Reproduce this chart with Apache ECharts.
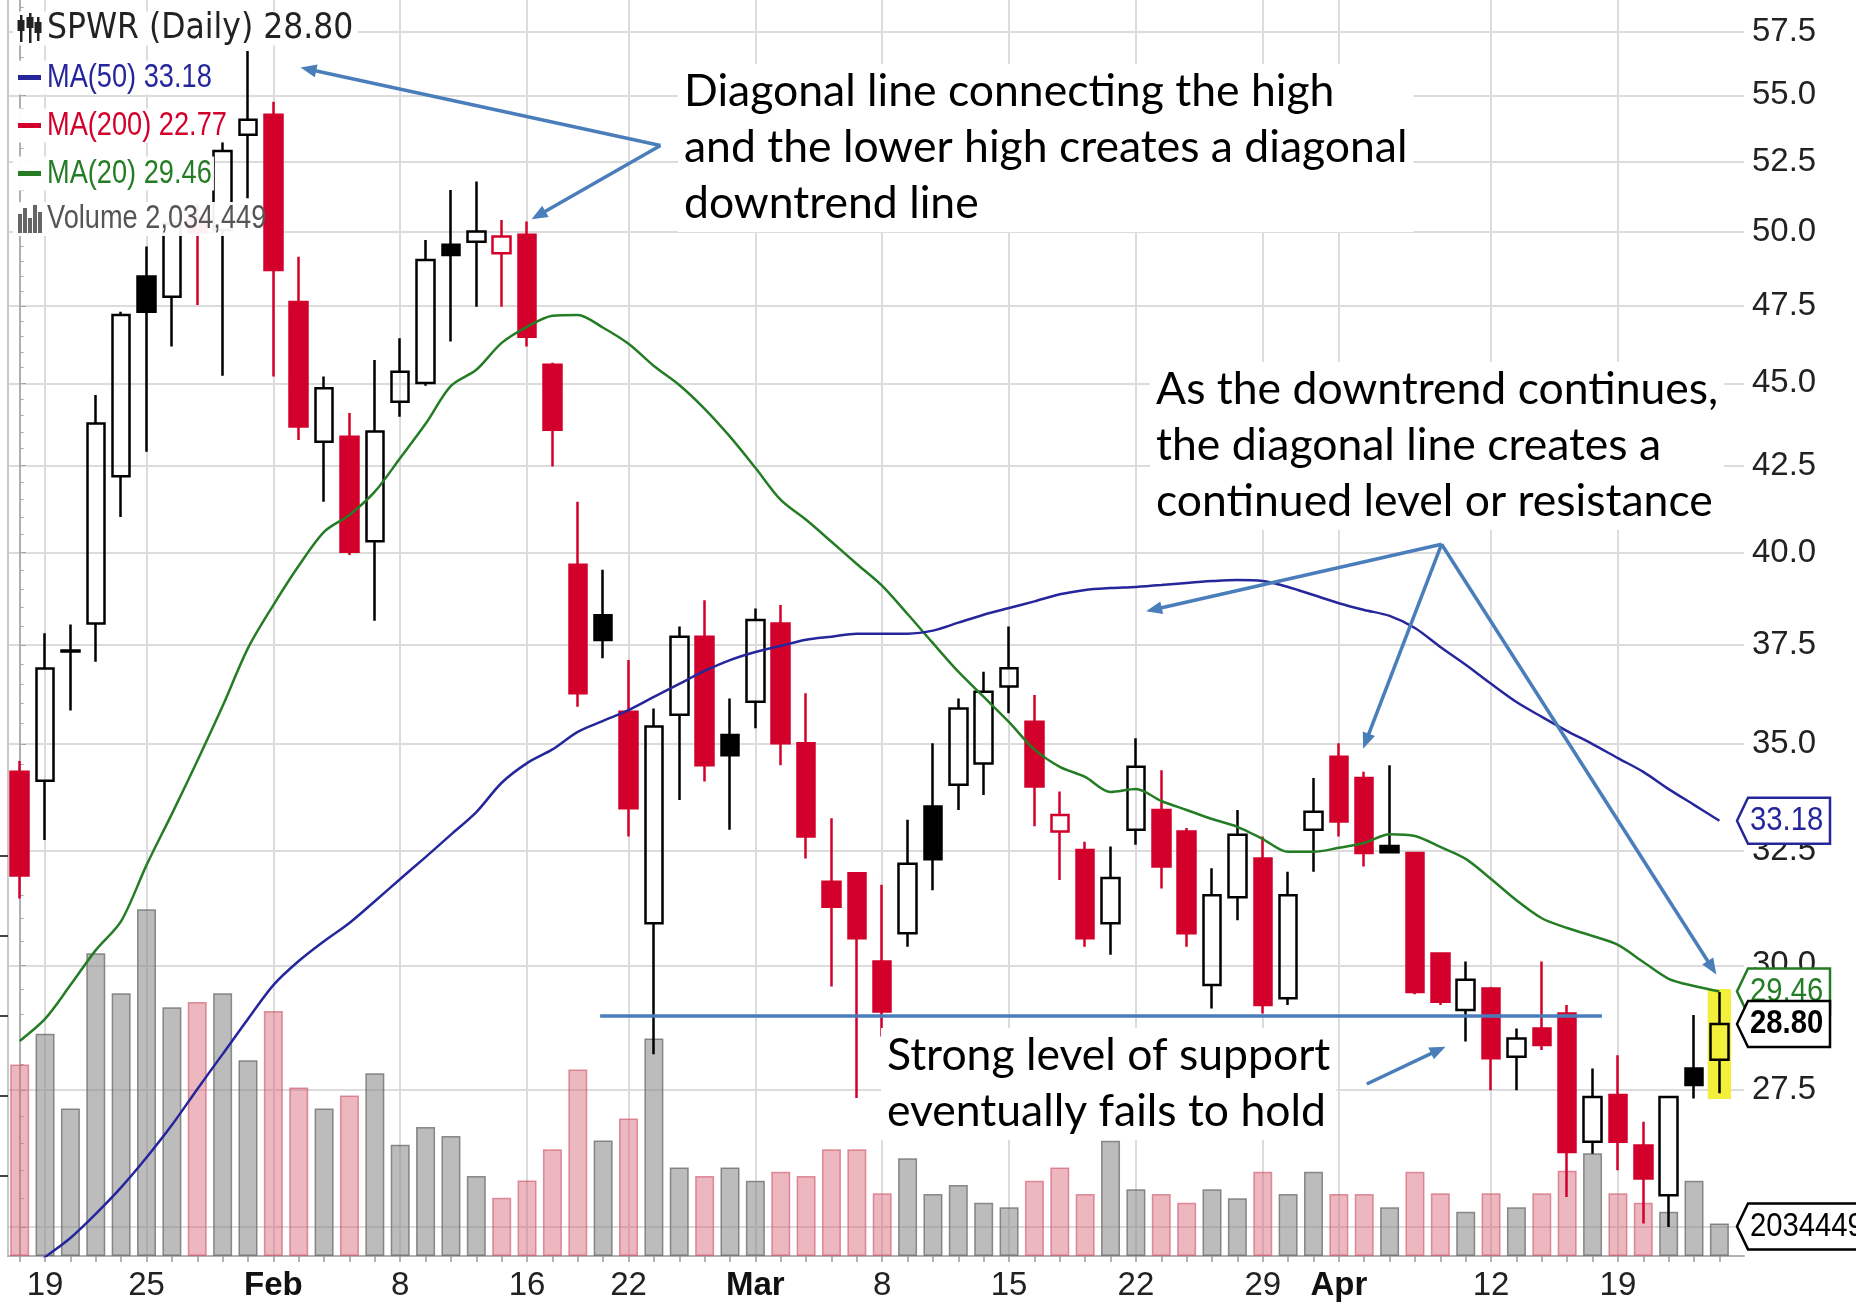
<!DOCTYPE html>
<html>
<head>
<meta charset="utf-8">
<title>SPWR (Daily)</title>
<script src="https://cdn.jsdelivr.net/npm/echarts@6.0.0/dist/echarts.min.js"></script>
<style>
html, body { margin: 0; padding: 0; background: #fff; }
#main { width: 1856px; height: 1310px; }
</style>
</head>
<body>
<div id="main"></div>
<script>
//--------------------------------------------- data ------------------------------------------ START
var dates = ['Jan 15','Jan 19','Jan 20','Jan 21','Jan 22','Jan 25','Jan 26','Jan 27','Jan 28','Jan 29',
  'Feb 1','Feb 2','Feb 3','Feb 4','Feb 5','Feb 8','Feb 9','Feb 10','Feb 11','Feb 12',
  'Feb 16','Feb 17','Feb 18','Feb 19','Feb 22','Feb 23','Feb 24','Feb 25','Feb 26','Mar 1',
  'Mar 2','Mar 3','Mar 4','Mar 5','Mar 8','Mar 9','Mar 10','Mar 11','Mar 12','Mar 15',
  'Mar 16','Mar 17','Mar 18','Mar 19','Mar 22','Mar 23','Mar 24','Mar 25','Mar 26','Mar 29',
  'Mar 30','Mar 31','Apr 1','Apr 5','Apr 6','Apr 7','Apr 8','Apr 9','Apr 12','Apr 13',
  'Apr 14','Apr 15','Apr 16','Apr 19','Apr 20','Apr 21','Apr 22','Apr 23'];

var openPrice = [34.33, 34.12, 37.33, 38.07, 42.18, 48.48, 47.80, 50.50, 50.08, 53.51,
  54.26, 47.63, 43.21, 43.36, 40.31, 44.43, 45.01, 49.56, 49.67, 49.27,
  49.91, 45.59, 39.66, 38.29, 35.80, 30.89, 35.72, 37.72, 35.22, 36.05,
  38.07, 35.02, 31.80, 31.99, 30.08, 30.68, 33.51, 34.02, 34.53, 36.43,
  35.55, 32.93, 32.51, 30.89, 32.97, 33.43, 32.93, 29.59, 31.46, 32.32,
  29.32, 32.97, 34.69, 34.18, 32.60, 32.44, 30.25, 29.08, 29.52, 28.15,
  28.71, 29.01, 26.53, 27.41, 26.46, 25.56, 27.92, 28.09];

var highPrice = [34.59, 37.81, 38.04, 44.64, 47.30, 49.50, 50.40, 51.00, 53.30, 56.73,
  54.76, 49.15, 45.22, 44.08, 45.74, 46.44, 49.73, 51.49, 51.80, 50.43,
  50.37, 45.65, 41.44, 39.52, 37.11, 35.88, 37.99, 38.69, 36.13, 38.47,
  38.56, 36.26, 33.24, 32.00, 31.73, 33.20, 35.02, 36.13, 36.81, 37.99,
  36.22, 33.86, 32.70, 32.59, 35.14, 34.37, 33.01, 32.10, 33.43, 32.82,
  32.02, 34.18, 35.02, 34.33, 34.49, 32.47, 30.27, 30.08, 29.55, 28.71,
  30.08, 29.18, 27.92, 28.18, 26.90, 27.37, 28.98, 29.45];

var lowPrice = [31.43, 32.74, 35.83, 37.07, 41.00, 42.91, 46.17, 47.53, 45.24, 51.20,
  45.22, 43.26, 41.44, 39.93, 38.14, 43.97, 44.93, 46.33, 47.47, 47.47,
  46.17, 42.47, 35.92, 37.16, 32.82, 28.20, 33.66, 34.10, 32.97, 35.39,
  34.49, 32.32, 29.56, 27.35, 28.55, 30.39, 31.61, 33.43, 33.78, 35.76,
  33.05, 31.84, 30.39, 30.22, 32.63, 31.65, 30.39, 29.11, 30.96, 29.01,
  29.18, 32.02, 32.82, 32.14, 32.44, 29.40, 29.18, 28.45, 27.50, 27.50,
  28.28, 25.53, 26.31, 26.01, 25.06, 25.00, 27.34, 27.44];

var closePrice = [31.94, 36.89, 37.36, 43.76, 47.20, 47.30, 50.30, 50.00, 52.91, 54.07,
  48.70, 43.67, 44.85, 40.02, 43.52, 45.37, 49.04, 49.21, 50.02, 49.85,
  46.49, 43.57, 36.26, 37.63, 33.47, 35.43, 37.72, 34.49, 34.73, 38.16,
  35.02, 32.82, 31.25, 30.57, 29.05, 32.20, 32.30, 35.88, 36.30, 36.90,
  33.98, 33.31, 30.57, 31.88, 34.45, 32.14, 30.68, 31.50, 32.86, 29.18,
  31.50, 33.39, 33.16, 32.44, 32.46, 29.45, 29.25, 29.70, 28.12, 28.51,
  28.38, 26.34, 27.37, 26.53, 25.86, 27.37, 27.60, 28.80];

var closeBefore = 34.90;   // close of the session before Jan 15

var volume = [11950000, 13870000, 9200000, 18890000, 16400000, 21640000, 15520000, 15850000, 16400000, 12220000,
  15300000, 10520000, 9200000, 10020000, 11400000, 6950000, 8050000, 7490000, 5000000, 3630000,
  4720000, 6660000, 11640000, 7210000, 8590000, 13580000, 5530000, 4990000, 5530000, 4700000,
  5260000, 4990000, 6660000, 6660000, 3910000, 6100000, 3870000, 4430000, 3330000, 3040000,
  4700000, 5530000, 3870000, 7190000, 4160000, 3870000, 3330000, 4160000, 3600000, 5260000,
  3870000, 5260000, 3870000, 3870000, 3040000, 5260000, 3910000, 2760000, 3910000, 3040000,
  3910000, 5320000, 6410000, 3910000, 3330000, 2760000, 4700000, 2034449];

var ma20 = [28.46, 28.90, 29.59, 30.32, 30.94, 32.17, 33.34, 34.59, 35.94, 37.42,
  38.56, 39.63, 40.58, 41.06, 41.73, 42.72, 43.75, 44.92, 45.43, 46.29,
  46.81, 47.17, 47.20, 46.78, 46.26, 45.55, 44.95, 44.21, 43.36, 42.43,
  41.49, 40.92, 40.30, 39.68, 39.08, 38.32, 37.55, 36.81, 36.17, 35.54,
  34.87, 34.45, 34.21, 33.85, 33.92, 33.64, 33.43, 33.22, 33.04, 32.76,
  32.47, 32.47, 32.56, 32.67, 32.87, 32.83, 32.58, 32.31, 31.86, 31.39,
  31.00, 30.79, 30.62, 30.43, 30.07, 29.72, 29.57, 29.46];

var ma50 = [24.16, 24.48, 24.81, 25.23, 25.70, 26.24, 26.84, 27.52, 28.20, 28.90,
  29.59, 30.09, 30.51, 30.90, 31.37, 31.86, 32.35, 32.86, 33.38, 34.07,
  34.54, 34.87, 35.30, 35.57, 35.84, 36.17, 36.50, 36.83, 37.11, 37.32,
  37.48, 37.64, 37.72, 37.80, 37.80, 37.80, 37.88, 38.09, 38.30, 38.48,
  38.66, 38.85, 38.97, 39.02, 39.05, 39.10, 39.16, 39.21, 39.24, 39.21,
  39.05, 38.83, 38.61, 38.43, 38.27, 37.95, 37.45, 36.99, 36.50, 36.04,
  35.67, 35.32, 35.00, 34.66, 34.33, 33.92, 33.55, 33.18];

var ma200Last = 22.77;

var tickDates = ['Jan 19','Jan 25','Feb 1','Feb 8','Feb 16','Feb 22','Mar 1','Mar 8','Mar 15','Mar 22','Mar 29','Apr 1','Apr 12','Apr 19'];
var tickLabels = ['19','25','Feb','8','16','22','Mar','8','15','22','29','Apr','12','19'];
var priceTicks = [25.0, 27.5, 30.0, 32.5, 35.0, 37.5, 40.0, 42.5, 45.0, 47.5, 50.0, 52.5, 55.0, 57.5];
var volumeTicks = [5000000, 10000000, 15000000, 20000000, 25000000];

// annotation lines, [day index, price]
var trendLine = [[9.04, 56.81], [68.05, 28.98]];
var supportLine = [[22.88, 28.96], [62.37, 28.96]];
var arrowLines = [
  [[25.26, 53.11], [11.38, 56.01]],
  [[25.26, 53.11], [20.45, 50.59]],
  [[56.05, 40.23], [44.71, 38.44]],
  [[56.05, 40.23], [53.07, 35.07]],
  [[56.05, 40.23], [66.71, 29.95]],
  [[53.10, 27.62], [55.92, 28.28]]
];
//--------------------------------------------- data ------------------------------------------ END

var priceMin = 24.50, priceMax = 58.78, volMax = 78400000;
var RED = '#d2002b', GREEN = '#247d24', NAVY = '#26269c', NOTE = '#4a7ebb', GRIDC = '#dcdcdc';
var AXIS_FONT = '"Liberation Sans", Arial, sans-serif';
var TITLE_FONT = '"DejaVu Sans Condensed", "DejaVu Sans", sans-serif';
var NOTE_FONT = 'Lato, "Open Sans", sans-serif';
var LN = Math.log;

var tickIdx = tickDates.map(function (d) { return dates.indexOf(d); });
var dayIdx = dates.map(function (d, i) { return i; });
var minorTicks = [];
for (var t = 25; t <= 58.5; t += 0.5) { minorTicks.push(LN(t)); }

function isUp(i) {
  var prev = i == 0 ? closeBefore : closePrice[i - 1];
  return closePrice[i] >= prev;
}

function candleData() {
  var res = [];
  for (var i = 0; i < dates.length; i++) {
    var c = isUp(i) ? '#000' : RED;
    var fill = closePrice[i] > openPrice[i] ? 'rgba(0,0,0,0)' : c;
    res.push({
      value: [i, LN(openPrice[i]), LN(closePrice[i]), LN(lowPrice[i]), LN(highPrice[i])],
      itemStyle: { color: fill, color0: fill, borderColor: c, borderColor0: c }
    });
  }
  return res;
}

function volumeData() {
  var res = [];
  for (var i = 0; i < volume.length; i++) {
    var up = isUp(i);
    res.push({
      value: [i, volume[i]],
      itemStyle: {
        color: up ? 'rgba(140,140,140,0.58)' : 'rgba(214,96,116,0.45)',
        borderColor: up ? 'rgba(105,105,105,0.75)' : 'rgba(205,80,100,0.6)',
        borderWidth: 1.5
      }
    });
  }
  return res;
}

function lnLine(arr) {
  var res = [];
  for (var i = 0; i < arr.length; i++) res.push([i, LN(arr[i])]);
  return res;
}

function markPair(pair) {
  return [{ coord: [pair[0][0], LN(pair[0][1])] }, { coord: [pair[1][0], LN(pair[1][1])] }];
}

var last = dates.length - 1;

var option = {
  animation: false,
  backgroundColor: '#fff',
  grid: { left: 8, right: 112, top: 0, bottom: 54, containLabel: false, outerBoundsMode: 'none' },
  xAxis: [{
    type: 'value', position: 'bottom', min: -0.46, max: 67.97,
    axisLine: { show: true, lineStyle: { color: '#b0b0b0', width: 2 } },
    axisTick: { show: false, customValues: tickIdx },
    axisLabel: {
      customValues: tickIdx, margin: 13, color: '#222',
      fontFamily: AXIS_FONT, fontSize: 33,
      formatter: function (v) {
        var k = tickIdx.indexOf(Math.round(v));
        if (k < 0) return '';
        var s = tickLabels[k];
        return /[A-Za-z]/.test(s) ? '{m|' + s + '}' : s;
      },
      rich: { m: { fontFamily: AXIS_FONT, fontSize: 33, fontWeight: 'bold', color: '#111' } }
    },
    splitLine: { show: true, lineStyle: { color: GRIDC, width: 2 } }
  }, {
    type: 'value', position: 'bottom', min: -0.46, max: 67.97,
    axisLine: { show: false },
    axisTick: { show: true, customValues: dayIdx, length: 6, lineStyle: { color: '#999', width: 1.5 } },
    axisLabel: { show: false },
    splitLine: { show: false }
  }],
  yAxis: [{
    type: 'value', position: 'right', min: LN(priceMin), max: LN(priceMax),
    axisLine: { show: true, lineStyle: { color: '#b0b0b0', width: 2 } },
    axisTick: { show: true, customValues: priceTicks.map(LN), length: 6, lineStyle: { color: '#999' } },
    axisLabel: {
      customValues: priceTicks.map(LN), margin: 8, color: '#222',
      fontFamily: AXIS_FONT, fontSize: 33,
      formatter: function (v) { return Math.exp(v).toFixed(1); }
    },
    splitLine: { show: true, lineStyle: { color: GRIDC, width: 2 } }
  }, {
    type: 'value', position: 'right', min: LN(priceMin), max: LN(priceMax),
    axisLine: { show: false },
    axisTick: { show: true, customValues: minorTicks, length: 4, lineStyle: { color: '#aaa' } },
    axisLabel: { show: false },
    splitLine: { show: false }
  }, {
    type: 'value', position: 'left', min: 0, max: volMax,
    axisLine: { show: true, lineStyle: { color: '#c8c8c8', width: 2 } },
    axisTick: { show: true, customValues: volumeTicks, length: 8, lineStyle: { color: '#444', width: 2 } },
    axisLabel: { show: false },
    splitLine: { show: false }
  }],
  series: [
    {
      name: 'highlight', type: 'line', xAxisIndex: 0, yAxisIndex: 0, data: [], silent: true,
      markArea: {
        silent: true, itemStyle: { color: '#f3f03c' },
        data: [[{ coord: [last - 0.46, LN(highPrice[last] * 1.002)] }, { coord: [last + 0.46, LN(lowPrice[last] * 0.996)] }]]
      }
    },
    {
      name: 'Volume', type: 'bar', xAxisIndex: 0, yAxisIndex: 2, barWidth: 19, z: 1,
      data: volumeData()
    },
    {
      name: 'SPWR', type: 'candlestick', xAxisIndex: 0, yAxisIndex: 0, barWidth: 18, z: 3,
      itemStyle: { borderWidth: 2.5 },
      data: candleData()
    },
    {
      name: 'MA(20)', type: 'line', xAxisIndex: 0, yAxisIndex: 0, z: 4, showSymbol: false, symbol: 'none',
      smooth: 0.3, lineStyle: { color: GREEN, width: 2.5 }, data: lnLine(ma20)
    },
    {
      name: 'MA(50)', type: 'line', xAxisIndex: 0, yAxisIndex: 0, z: 4, showSymbol: false, symbol: 'none',
      smooth: 0.3, lineStyle: { color: NAVY, width: 2.5 }, data: lnLine(ma50)
    },
    {
      name: 'lines', type: 'line', xAxisIndex: 0, yAxisIndex: 0, data: [], silent: true,
      markLine: {
        silent: true, symbol: ['none', 'none'], label: { show: false },
        lineStyle: { color: NOTE, width: 3.5, type: 'solid' },
        data: [markPair(trendLine), markPair(supportLine)]
      }
    },
    {
      name: 'arrows', type: 'line', xAxisIndex: 0, yAxisIndex: 0, data: [], silent: true,
      markLine: {
        silent: true, symbol: ['none', 'triangle'], symbolSize: [13, 16], label: { show: false },
        lineStyle: { color: NOTE, width: 3.5, type: 'solid' },
        data: arrowLines.map(markPair)
      }
    }
  ],
  graphic: []
};

var myChart = echarts.init(document.getElementById('main'));
myChart.setOption(option);

//--------------------------------------------- legend, notes, value boxes ------------------------------------------
function legendRow(y, right, text, color, fontFamily, fontSize, sx) {
  return [{
    type: 'rect', z: 19, shape: { x: 13, y: y - 17, width: right - 13, height: 34 },
    style: { fill: 'rgba(255,255,255,0.94)' }
  }, {
    type: 'text', x: 47, y: y, z: 20, scaleX: sx,
    style: { text: text, fill: color, fontFamily: fontFamily, fontSize: fontSize, verticalAlign: 'middle', align: 'left' }
  }];
}

function noteText(x, y, text) {
  return {
    type: 'text', x: x, y: y, z: 30,
    style: {
      text: text, fill: '#000', fontFamily: NOTE_FONT, fontSize: 44.5, lineHeight: 56,
      backgroundColor: '#fff', padding: [0, 6, 0, 6]
    }
  };
}

function valueBox(y, text, color, bold, right, z) {
  var tip = 1737, x0 = 1748, h = 46;
  return [{
    type: 'polygon', z: z,
    shape: { points: [[tip, y], [x0, y - h / 2], [right, y - h / 2], [right, y + h / 2], [x0, y + h / 2]] },
    style: { fill: '#fff', stroke: color, lineWidth: 2.5 }
  }, {
    type: 'text', x: x0 + 2, y: y, z: z + 1, scaleX: 0.86,
    style: {
      text: text, fill: color, fontFamily: AXIS_FONT, fontSize: 34, fontWeight: bold ? 'bold' : 'normal',
      verticalAlign: 'middle', align: 'left'
    }
  }];
}

var g = [];
g = g.concat(legendRow(28.6, 358, 'SPWR (Daily) ' + closePrice[last].toFixed(2), '#222', TITLE_FONT, 35, 1));
g = g.concat(legendRow(77.5, 214, 'MA(50) ' + ma50[last].toFixed(2), NAVY, AXIS_FONT, 34, 0.8));
g = g.concat(legendRow(125.5, 228, 'MA(200) ' + ma200Last.toFixed(2), RED, AXIS_FONT, 34, 0.8));
g = g.concat(legendRow(173.5, 214, 'MA(20) ' + ma20[last].toFixed(2), GREEN, AXIS_FONT, 34, 0.8));
g = g.concat(legendRow(219, 263, 'Volume ' + volume[last].toLocaleString('en-US'), '#555', AXIS_FONT, 34, 0.8));

// legend swatches
g.push({ type: 'rect', z: 21, shape: { x: 18, y: 75, width: 23, height: 5 }, style: { fill: NAVY } });
g.push({ type: 'rect', z: 21, shape: { x: 18, y: 123, width: 23, height: 5 }, style: { fill: RED } });
g.push({ type: 'rect', z: 21, shape: { x: 18, y: 171, width: 23, height: 5 }, style: { fill: GREEN } });
[[18, 214, 19], [23, 208, 25], [28, 218, 15], [33, 205, 28], [38, 212, 21]].forEach(function (b) {
  g.push({ type: 'rect', z: 21, shape: { x: b[0], y: b[1], width: 4, height: b[2] }, style: { fill: '#666' } });
});
// ticker icon
[[21, 15, 27, 20], [30, 13, 30, 17], [38, 17, 24, 22]].forEach(function (c) {
  g.push({ type: 'rect', z: 21, shape: { x: c[0] - 1, y: c[1], width: 2.5, height: c[2] }, style: { fill: '#222' } });
  g.push({ type: 'rect', z: 21, shape: { x: c[0] - 3.5, y: c[3], width: 7, height: 11 }, style: { fill: '#222' } });
});

g.push(noteText(678, 64, 'Diagonal line connecting the high\nand the lower high creates a diagonal\ndowntrend line'));
g.push(noteText(1150, 362, 'As the downtrend continues,\nthe diagonal line creates a\ncontinued level or resistance'));
g.push(noteText(881, 1028, 'Strong level of support\neventually fails to hold'));

var yMa50 = myChart.convertToPixel({ yAxisIndex: 0 }, LN(ma50[last]));
var yMa20 = myChart.convertToPixel({ yAxisIndex: 0 }, LN(ma20[last]));
var yClose = myChart.convertToPixel({ yAxisIndex: 0 }, LN(closePrice[last]));
var yVol = myChart.convertToPixel({ yAxisIndex: 2 }, volume[last]);
g = g.concat(valueBox(yMa50, ma50[last].toFixed(2), NAVY, false, 1830, 40));
g = g.concat(valueBox(yMa20, ma20[last].toFixed(2), GREEN, false, 1830, 42));
g = g.concat(valueBox(yClose, closePrice[last].toFixed(2), '#000', true, 1830, 44));
g = g.concat(valueBox(yVol + 3, String(volume[last]), '#000', false, 1880, 46));

myChart.setOption({ graphic: g });
</script>
</body>
</html>
